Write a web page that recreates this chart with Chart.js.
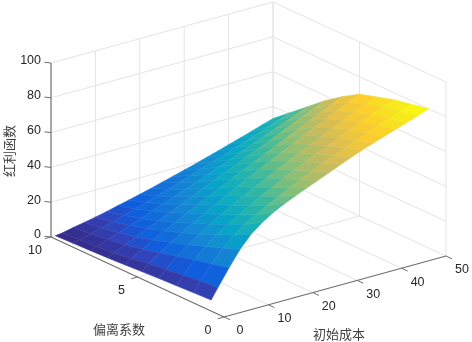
<!DOCTYPE html>
<html>
<head>
<meta charset="utf-8">
<script src="https://cdn.jsdelivr.net/npm/chart.js@4"></script>
<style>
  html, body { margin: 0; padding: 0; background: #fff; }
  canvas { display: block; }
</style>
</head>
<body>
<canvas id="myChart" width="472" height="342"></canvas>
<script>
// surface data
let costValues = [1, 2.5, 5, 7.5, 10, 12.5, 15, 17.5, 20, 22.5, 25, 27.5, 30, 32.5, 35, 37.5, 40, 42.5, 45, 47.5, 50];
let deviationValues = [1, 2, 3, 4, 5, 6, 7, 8, 9, 10];
let dividendRows = [
  [4.5, 10.5, 20, 29, 36, 41, 45, 48.2, 51, 53.7, 56.3, 59, 61.7, 64.3, 66.8, 69, 71.2, 73.3, 75.5, 77.7, 80],
  [4, 9.7, 17.8, 25, 30.8, 35.2, 39, 42.4, 45.9, 49.1, 52.2, 55.1, 58, 60.7, 63.4, 66, 68.5, 71, 73.4, 75.7, 78],
  [3.5, 8.5, 15.5, 21.4, 26.4, 30.6, 34.4, 38, 41.5, 44.9, 48.1, 51.2, 54.3, 57.2, 60, 62.9, 65.6, 68.2, 70.9, 73.5, 76],
  [3, 7.2, 13, 17.9, 22.2, 26.1, 30, 33.6, 37, 40.4, 43.7, 46.9, 50, 53, 56, 59, 61.9, 64.7, 67.5, 70.3, 73],
  [2.4, 5.8, 10.4, 14.5, 18.4, 22.1, 25.9, 29.3, 32.7, 36.1, 39.4, 42.6, 45.8, 48.9, 52.1, 55.1, 58.2, 61.2, 64.2, 67.1, 70],
  [1.8, 4.2, 7.9, 11.4, 14.8, 18.1, 21.5, 24.6, 27.8, 30.9, 34, 37.1, 40.2, 43.2, 46.2, 49.2, 52.2, 55.2, 58.1, 61.1, 64],
  [1.2, 2.9, 5.8, 8.6, 11.5, 14.4, 17.2, 20.1, 22.9, 25.8, 28.7, 31.5, 34.3, 37.2, 40, 42.9, 45.7, 48.6, 51.4, 54.2, 57],
  [0.8, 2, 4.2, 6.4, 8.8, 11.1, 13.6, 15.9, 18.4, 20.8, 23.3, 25.8, 28.4, 30.9, 33.4, 36, 38.6, 41.2, 43.8, 46.4, 49],
  [0.4, 1.3, 2.8, 4.5, 6.3, 8.2, 10.2, 12.1, 14.2, 16.2, 18.4, 20.5, 22.7, 24.9, 27.1, 29.4, 31.7, 33.9, 36.3, 38.6, 41],
  [0, 0.5, 1.9, 3.1, 4.4, 5.8, 7.4, 8.9, 10.5, 12.1, 13.9, 15.6, 17.4, 19.2, 21.1, 23, 25, 26.9, 28.9, 31, 33]
];

// tick labels
let costTicks = [0, 10, 20, 30, 40, 50];
let deviationTicks = [0, 5, 10];
let dividendTicks = [0, 20, 40, 60, 80, 100];

// parula colours, position on the colour bar then r, g, b
let parulaStops = [
  [0, 53, 42, 135], [0.0625, 50, 67, 186], [0.111, 15, 92, 221], [0.25, 20, 133, 212],
  [0.375, 6, 167, 198], [0.5, 46, 183, 164], [0.625, 135, 191, 119],
  [0.75, 209, 187, 89], [0.875, 254, 205, 45], [0.94, 245, 228, 30], [1, 249, 251, 14]
];
let colourMax = 78;

function parula(value) {
  let t = Math.min(1, Math.max(0, value / colourMax));
  for (let i = 1; i < parulaStops.length; i++) {
    let a = parulaStops[i - 1], b = parulaStops[i];
    if (t <= b[0]) {
      let f = (t - a[0]) / (b[0] - a[0]);
      return 'rgb(' + [1, 2, 3].map(function (k) { return Math.round(a[k] + (b[k] - a[k]) * f); }).join(',') + ')';
    }
  }
  return 'rgb(249,251,14)';
}

// the 3D box as it sits on the page
function project(cost, deviation, dividend) {
  return {
    x: 224 + cost * 222 / 50 - deviation * 173 / 10,
    y: 317 - cost * 61 / 50 - deviation * 80 / 10 - dividend * 174 / 100
  };
}

function lineSet(from, to, colour, width) {
  return {
    data: [project(from[0], from[1], from[2]), project(to[0], to[1], to[2])],
    showLine: true,
    borderColor: colour,
    borderWidth: width,
    pointRadius: 0,
    clip: false
  };
}

let datasets = [];

// the first dataset is painted last, so the nearest facets go in first
for (let j = 0; j < deviationValues.length - 1; j++) {
  for (let i = 0; i < costValues.length - 1; i++) {
    let corners = [[i, j], [i + 1, j], [i + 1, j + 1], [i, j + 1]];
    let pts = corners.map(function (c) {
      return project(costValues[c[0]], deviationValues[c[1]], dividendRows[c[1]][c[0]]);
    });
    // colour follows the low cost side of the facet
    let level = (dividendRows[j][i] + dividendRows[j + 1][i]) / 2;
    datasets.push({ data: pts, facetColour: parula(level), pointRadius: 0, clip: false });
  }
}

let axisColour = '#6e6e6e';
let gridColour = '#e4e4e4';

// axis lines and tick marks
datasets.push(lineSet([0, 10, 0], [0, 10, 100], axisColour, 1.2));
datasets.push(lineSet([0, 10, 0], [0, 0, 0], axisColour, 1.2));
datasets.push(lineSet([0, 0, 0], [50, 0, 0], axisColour, 1.2));
costTicks.forEach(function (c) {
  datasets.push(lineSet([c, 0, 0], [c, -0.35, 0], axisColour, 1));
});
deviationTicks.forEach(function (d) {
  datasets.push(lineSet([0, d, 0], [-1.4, d, 0], axisColour, 1));
});
dividendTicks.forEach(function (z) {
  datasets.push(lineSet([0, 10, z], [-0.7, 10.2, z], axisColour, 1));
});

// walls and floor
costTicks.forEach(function (c) {
  if (c > 0) datasets.push(lineSet([c, 10, 0], [c, 10, 100], gridColour, 1));
  if (c > 0) datasets.push(lineSet([c, 0, 0], [c, 10, 0], gridColour, 1));
});
deviationTicks.forEach(function (d) {
  datasets.push(lineSet([50, d, 0], [50, d, 100], gridColour, 1));
  if (d > 0) datasets.push(lineSet([0, d, 0], [50, d, 0], gridColour, 1));
});
dividendTicks.forEach(function (z) {
  if (z > 0) datasets.push(lineSet([0, 10, z], [50, 10, z], gridColour, 1));
  if (z > 0) datasets.push(lineSet([50, 10, z], [50, 0, z], gridColour, 1));
});

let facetPlugin = {
  id: 'facets',
  afterDatasetDraw: function (chart, args) {
    let ds = chart.data.datasets[args.index];
    if (!ds.facetColour) return;
    let ctx = chart.ctx;
    let pts = args.meta.data;
    ctx.save();
    ctx.beginPath();
    pts.forEach(function (p, i) {
      if (i == 0) ctx.moveTo(p.x, p.y);
      else ctx.lineTo(p.x, p.y);
    });
    ctx.closePath();
    ctx.fillStyle = ds.facetColour;
    ctx.fill();
    ctx.strokeStyle = ds.facetColour;
    ctx.lineWidth = 0.7;
    ctx.stroke();
    ctx.strokeStyle = 'rgba(255,255,255,0.07)';
    ctx.lineWidth = 0.7;
    ctx.stroke();
    ctx.restore();
  }
};

let labelPlugin = {
  id: 'labels',
  afterDatasetsDraw: function (chart) {
    let ctx = chart.ctx;
    let sx = chart.scales.x, sy = chart.scales.y;
    function put(text, p, dx, dy) {
      ctx.fillText(text, sx.getPixelForValue(p.x) + dx, sy.getPixelForValue(p.y) + dy);
    }
    ctx.save();
    ctx.font = '12.5px "Liberation Sans", Arial, sans-serif';
    ctx.fillStyle = '#262626';
    ctx.textBaseline = 'middle';
    ctx.textAlign = 'center';
    costTicks.forEach(function (c) { put(String(c), project(c, 0, 0), 16, 14); });
    deviationTicks.forEach(function (d) { put(String(d), project(0, d, 0), -16, 14); });
    ctx.textAlign = 'right';
    dividendTicks.forEach(function (z) { put(String(z), project(0, 10, z), -10, -2); });

    ctx.font = '13px "Noto Sans CJK SC", sans-serif';
    ctx.fillStyle = '#404040';
    ctx.textAlign = 'center';
    ctx.fillText('偏离系数', 119, 329);
    ctx.fillText('初始成本', 339, 334);
    ctx.translate(9, 151);
    ctx.rotate(-Math.PI / 2);
    ctx.fillText('红利函数', 0, 0);
    ctx.restore();
  }
};

let ctx = document.getElementById('myChart').getContext('2d');
let chart = new Chart(ctx, {
  type: 'scatter',
  data: { datasets: datasets },
  options: {
    responsive: false,
    animation: false,
    events: [],
    layout: { padding: 0 },
    plugins: { legend: { display: false }, tooltip: { enabled: false } },
    scales: {
      x: { type: 'linear', display: false, min: 0, max: 472 },
      y: { type: 'linear', display: false, min: 0, max: 342, reverse: true }
    }
  },
  plugins: [facetPlugin, labelPlugin]
});
</script>
</body>
</html>
